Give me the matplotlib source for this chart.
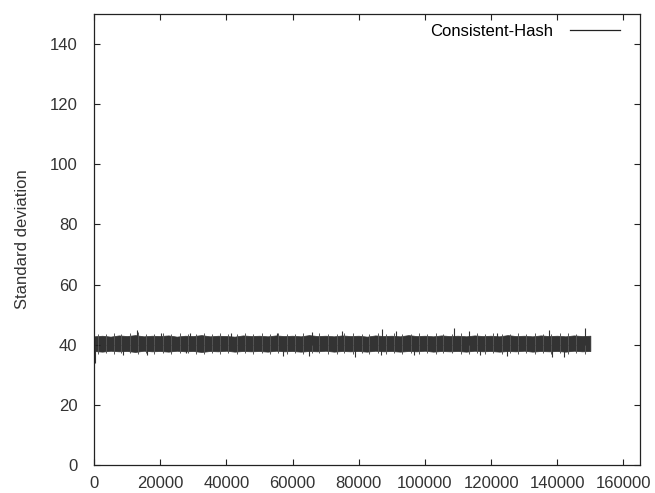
import matplotlib
matplotlib.use("Agg")
import matplotlib.pyplot as plt
from matplotlib.lines import Line2D

plt.rcParams['font.family'] = ['Liberation Sans', 'DejaVu Sans']

# Envelope of the standard-deviation trace, sampled every 2500 steps
env_x = [i * 2500 for i in range(61)]
env_upper = [42.8, 43.0, 42.7, 43.1, 42.9, 43.2, 42.8, 43.0, 42.9, 43.1,
             42.7, 43.0, 42.9, 43.2, 42.8, 43.0, 42.9, 42.7, 43.1, 42.9,
             43.0, 42.8, 43.1, 42.9, 43.0, 42.8, 43.2, 42.9, 43.0, 42.8,
             43.1, 42.9, 43.0, 42.7, 43.1, 42.9, 43.0, 42.8, 43.2, 42.9,
             43.0, 42.8, 43.1, 42.9, 43.0, 42.8, 43.1, 42.9, 43.0, 42.8,
             43.2, 42.9, 43.0, 42.8, 43.1, 42.9, 43.0, 42.8, 43.1, 42.9, 43.0]
env_lower = [37.9, 37.7, 38.0, 37.8, 37.9, 37.6, 38.0, 37.8, 37.9, 37.7,
             38.0, 37.8, 37.9, 37.6, 37.9, 37.8, 38.0, 37.7, 37.9, 37.8,
             37.9, 37.7, 38.0, 37.8, 37.9, 37.7, 37.9, 37.8, 38.0, 37.7,
             37.9, 37.8, 37.9, 37.7, 38.0, 37.8, 37.9, 37.7, 37.9, 37.8,
             38.0, 37.7, 37.9, 37.8, 37.9, 37.7, 38.0, 37.8, 37.9, 37.7,
             37.9, 37.8, 38.0, 37.7, 37.9, 37.8, 37.9, 37.7, 38.0, 37.8, 37.9]

# Shorter flicker along both edges of the band
fuzz_x = [1200, 3600, 6100, 8300, 10800, 13400, 15700, 18200, 21000, 23300,
          25900, 28400, 30700, 33200, 35800, 38100, 40600, 43300, 45700, 48200,
          50900, 53300, 55600, 58300, 60700, 63200, 65800, 68100, 70700, 73300,
          75600, 78200, 80900, 83200, 85700, 88300, 90600, 93100, 95800, 98200,
          100700, 103300, 105600, 108200, 110800, 113200, 115700, 118300, 120600, 123200,
          125800, 128100, 130700, 133300, 135600, 138200, 140800, 143300, 145600, 148300]
fuzz_top = [43.7, 43.5, 43.9, 43.6, 43.8, 44.1, 43.5, 43.7, 43.9, 43.6,
            43.8, 43.5, 43.7, 43.9, 43.6, 43.8, 43.5, 43.7, 44.0, 43.6,
            43.8, 43.5, 43.9, 43.7, 43.6, 43.8, 43.5, 43.9, 43.7, 43.6,
            43.8, 44.0, 43.5, 43.7, 43.9, 43.6, 43.8, 43.5, 43.7, 43.9,
            43.6, 43.8, 43.5, 43.7, 44.0, 43.6, 43.8, 43.5, 43.9, 43.7,
            43.6, 43.8, 43.5, 43.9, 43.7, 43.6, 43.8, 44.0, 43.7, 43.8]
fuzz_bottom = [37.0, 37.2, 36.9, 37.1, 37.3, 36.9, 37.1, 37.0, 37.2, 36.9,
               37.1, 37.3, 37.0, 36.9, 37.2, 37.0, 37.1, 36.9, 37.2, 37.0,
               37.3, 36.9, 37.1, 37.0, 37.2, 36.9, 37.1, 37.3, 37.0, 36.9,
               37.2, 37.0, 37.1, 36.9, 37.2, 37.0, 37.3, 36.9, 37.1, 37.0,
               37.2, 36.9, 37.1, 37.3, 37.0, 36.9, 37.2, 37.0, 37.1, 36.9,
               37.2, 37.0, 37.3, 36.9, 37.1, 37.0, 37.2, 36.9, 37.1, 37.0]

# Individual excursions above and below the band
peak_x = [12900, 20400, 28900, 41500, 55400, 66000, 74900, 87000, 91200,
          108800, 113300, 121700, 137400, 148400]
peak_y = [44.9, 44.0, 44.0, 44.0, 44.0, 44.3, 44.6, 45.2, 44.6,
          45.4, 44.6, 44.0, 44.8, 45.4]
dip_x = [300, 8700, 15900, 27900, 57000, 65000, 79000, 86700, 96700,
         116800, 124700, 138300, 141900]
dip_y = [34.0, 36.6, 36.6, 37.2, 36.2, 36.2, 36.0, 36.6, 36.6,
         36.6, 36.3, 36.0, 36.0]

x_ticks = [0, 20000, 40000, 60000, 80000, 100000, 120000, 140000, 160000]
y_ticks = [0, 20, 40, 60, 80, 100, 120, 140]

series_name = "Consistent-Hash"
y_label = "Standard deviation"
color = "#333333"
ink = "#222222"

fig = plt.figure(figsize=(6.55, 4.93), dpi=100)
ax = fig.add_axes([0.1435, 0.0568, 0.8336, 0.9148])

ax.fill_between(env_x, env_lower, env_upper, color=color, linewidth=0.5,
                edgecolor=color)
ax.vlines(fuzz_x, [40] * len(fuzz_x), fuzz_top, color="#555555", linewidth=0.7)
ax.vlines(fuzz_x, fuzz_bottom, [40] * len(fuzz_x), color="#555555", linewidth=0.7)
ax.vlines(peak_x, [40] * len(peak_x), peak_y, color=color, linewidth=0.8)
ax.vlines(dip_x, dip_y, [40] * len(dip_x), color=color, linewidth=0.8)

ax.set_xlim(0, 165000)
ax.set_ylim(0, 150)
ax.set_xticks(x_ticks)
ax.set_yticks(y_ticks)
ax.set_xticklabels([str(v) for v in x_ticks])
ax.tick_params(direction="in", length=4, width=0.8, top=True, right=True,
               labelsize=12, colors=ink, labelcolor="#333333")
ax.tick_params(axis="x", pad=8)
ax.tick_params(axis="y", pad=12)
for s in ax.spines.values():
    s.set_linewidth(0.9)
    s.set_color(ink)

ax.set_ylabel(y_label, fontsize=12, color="#333333", labelpad=14)

handle = Line2D([], [], color=ink, linewidth=0.9)
ax.legend([handle], [series_name], loc="upper right", markerfirst=False,
          frameon=False, handlelength=3.0, fontsize=12,
          bbox_to_anchor=(0.99, 1.012), handletextpad=1.0)

fig.savefig("out.png", dpi=100)
